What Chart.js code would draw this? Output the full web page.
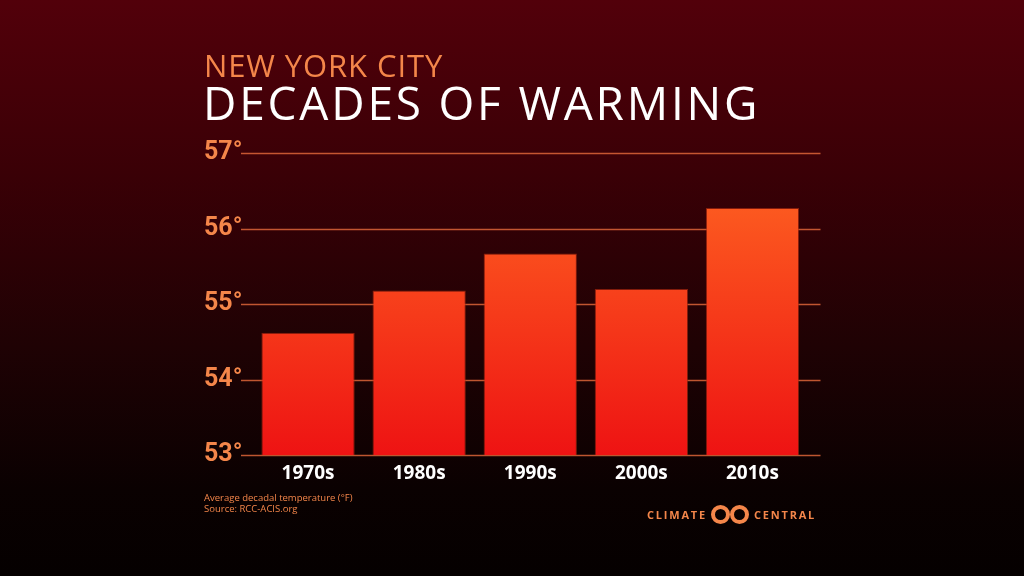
<!DOCTYPE html>
<html>
<head>
<meta charset="utf-8">
<script src="https://cdn.jsdelivr.net/npm/chart.js@4"></script>
<style>
  html, body { margin: 0; padding: 0; }
  body {
    width: 1024px; height: 576px; overflow: hidden; position: relative;
    background: linear-gradient(to bottom, #52000a 0%, #3a0006 30%, #1f0204 60%, #0a0101 85%, #050000 100%);
    font-family: "Open Sans", sans-serif;
  }
  #wrap { position: absolute; left: 0; top: 0; width: 1024px; height: 576px; }
  .kicker { position: absolute; left: 204px; top: 50px; color: #f4864a; font-size: 31px; line-height: 31px;
    letter-spacing: 0.9px; white-space: nowrap; }
  .headline { position: absolute; left: 203px; top: 79px; color: #fff; font-size: 46px; line-height: 46px;
    letter-spacing: 2.8px; white-space: nowrap; }
  .note { position: absolute; left: 204px; top: 492px; color: #f4864a; font-size: 9.5px; line-height: 11px; }
  .logo { position: absolute; left: 647px; top: 504px; height: 20px; color: #f4864a; font-weight: 700;
    font-size: 11px; letter-spacing: 1.8px; display: flex; align-items: center; white-space: nowrap; }
  .rings { position: relative; flex: none; width: 38px; height: 19px; margin: 0 5px 0 4px; }
  .rings span { position: absolute; top: 0; width: 19px; height: 19px; box-sizing: border-box;
    border: 4.5px solid #f4864a; border-radius: 50%; }
</style>
</head>
<body>
<div id="wrap"><canvas id="chart" width="1024" height="576"></canvas></div>
<div class="kicker">NEW YORK CITY</div>
<div class="headline">DECADES OF WARMING</div>
<div class="note">Average decadal temperature (°F)<br>Source: RCC-ACIS.org</div>
<div class="logo">CLIMATE<div class="rings"><span style="left:0"></span><span style="left:19px"></span></div>CENTRAL</div>
<script>
const decades = ['1970s', '1980s', '1990s', '2000s', '2010s'];
const avgTemp = [54.62, 55.18, 55.67, 55.2, 56.27];
const yTicks = [53, 54, 55, 56, 57];

const ORANGE = '#f4864a';

// horizontal rules that run a bit past the bars on both sides
const gridRules = {
  id: 'gridRules',
  beforeDatasetsDraw(chart) {
    const { ctx, chartArea, scales } = chart;
    ctx.save();
    ctx.strokeStyle = 'rgba(232,108,60,0.8)';
    ctx.lineWidth = 1.5;
    yTicks.forEach((v) => {
      const y = Math.round(scales.y.getPixelForValue(v)) + 0.5;
      ctx.beginPath();
      ctx.moveTo(chartArea.left - 11.5, y);
      ctx.lineTo(chartArea.right + 12.5, y);
      ctx.stroke();
    });
    ctx.restore();
  },
};

function barFill(context) {
  const area = context.chart.chartArea;
  if (!area) return '#f33';
  const g = context.chart.ctx.createLinearGradient(0, area.top, 0, area.bottom);
  g.addColorStop(0, '#ff6822');
  g.addColorStop(1, '#ee1313');
  return g;
}

new Chart(document.getElementById('chart'), {
  type: 'bar',
  data: {
    labels: decades,
    datasets: [{
      data: avgTemp,
      backgroundColor: barFill,
      borderColor: 'rgba(170,40,15,0.7)',
      borderWidth: 1,
      borderSkipped: 'bottom',
      barPercentage: 0.84,
      categoryPercentage: 1,
      base: 53,
    }],
  },
  options: {
    responsive: false,
    animation: false,
    layout: { padding: { left: 204, right: 216, bottom: 91, top: 153 } },
    plugins: {
      legend: { display: false },
      tooltip: { enabled: false },
    },
    scales: {
      x: {
        grid: { display: false },
        border: { display: false },
        ticks: {
          color: '#ffffff',
          padding: -1,
          font: { family: 'Open Sans', size: 19, weight: 700 },
        },
        afterFit(scale) { scale.height = 30; },
      },
      y: {
        min: 53,
        max: 57,
        grid: { display: false },
        border: { display: false },
        afterBuildTicks(scale) { scale.ticks = yTicks.map((v) => ({ value: v })); },
        afterFit(scale) { scale.width = 48.5; },
        ticks: {
          color: ORANGE,
          crossAlign: 'far',
          font: { family: 'Roboto, sans-serif', size: 25, weight: 700 },
          callback: (v) => v + '°',
        },
      },
    },
  },
  plugins: [gridRules],
});
</script>
</body>
</html>
